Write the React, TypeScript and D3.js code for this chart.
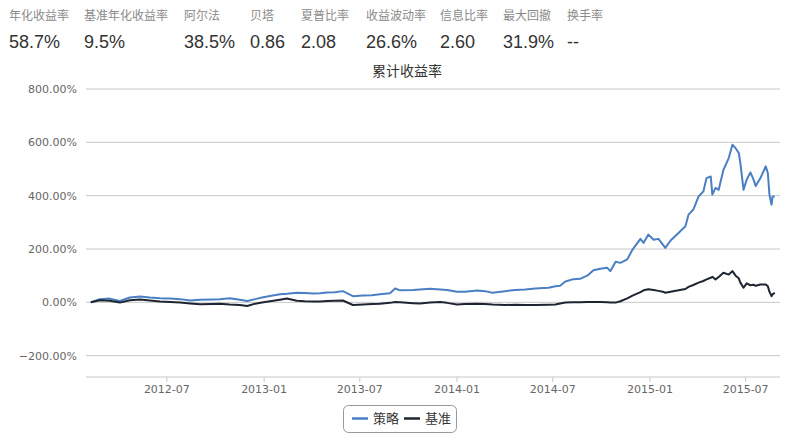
import React from "react";
import * as d3 from "d3";

const statLabels = ["年化收益率", "基准年化收益率", "阿尔法", "贝塔", "夏普比率", "收益波动率", "信息比率", "最大回撤", "换手率"];
const statValues = ["58.7%", "9.5%", "38.5%", "0.86", "2.08", "26.6%", "2.60", "31.9%", "--"];
const statX = [9, 84, 184, 250, 301, 366, 440, 503, 567];

const dates = [
  "2012-02-08","2012-02-25","2012-03-15","2012-04-03","2012-04-22","2012-05-11","2012-05-30","2012-06-18","2012-07-07","2012-07-26",
  "2012-08-14","2012-09-02","2012-09-26","2012-10-09","2012-10-28","2012-11-16","2012-11-30","2012-12-15","2012-12-28","2013-01-12",
  "2013-01-31","2013-02-13","2013-03-04","2013-03-19","2013-04-04","2013-04-17","2013-04-30","2013-05-15","2013-05-30","2013-06-18",
  "2013-07-07","2013-07-24","2013-08-08","2013-08-27","2013-09-06","2013-09-15","2013-10-10","2013-10-23","2013-11-11","2013-11-30",
  "2013-12-13","2014-01-01","2014-01-16","2014-02-08","2014-02-23","2014-03-09","2014-04-02","2014-04-21","2014-05-10","2014-05-29",
  "2014-06-23","2014-07-06","2014-07-15","2014-07-25","2014-08-09","2014-08-22","2014-09-05","2014-09-16","2014-09-29","2014-10-12",
  "2014-10-18","2014-10-28","2014-11-06","2014-11-19","2014-11-29","2014-12-14","2014-12-20","2014-12-29","2015-01-08","2015-01-17",
  "2015-01-25","2015-01-30","2015-02-09","2015-02-24","2015-03-09","2015-03-15","2015-03-24","2015-04-03","2015-04-12","2015-04-18",
  "2015-04-26","2015-04-29","2015-05-05","2015-05-11","2015-05-20","2015-05-30","2015-06-06","2015-06-12","2015-06-18","2015-06-21",
  "2015-06-27","2015-07-03","2015-07-10","2015-07-16","2015-07-20","2015-07-29","2015-08-08","2015-08-12","2015-08-15","2015-08-19",
  "2015-08-21","2015-08-25"
];

const strategy = [
  0, 12, 14, 5, 18, 22, 18, 15, 14, 12,
  7, 10, 11, 12, 15, 10, 5, 12, 18, 24,
  30, 32, 36, 35, 33, 34, 37, 38, 42, 23,
  26, 27, 30, 34, 52, 45, 46, 48, 51, 48,
  46, 40, 40, 44, 42, 36, 42, 46, 48, 52,
  55, 60, 62, 78, 87, 88, 101, 120, 126, 130,
  117, 152, 148, 161, 198, 238, 223, 254, 235, 238,
  217, 204, 232, 260, 285, 329, 348, 397, 416, 466,
  472, 404, 429, 422, 497, 541, 591, 578, 560, 523,
  422, 460, 487, 460, 436, 466, 510, 485, 404, 366,
  397, 397
];

const benchmark = [
  0, 8, 6, -1, 8, 11, 7, 3, 1, -1,
  -4, -7, -6, -5, -8, -10, -14, -5, -1, 4,
  10, 14, 6, 4, 3, 3, 5, 6, 7, -10,
  -8, -6, -5, -2, 1, 0, -3, -4, -1, 1,
  -2, -8, -6, -5, -6, -8, -10, -9, -10, -10,
  -9, -8, -4, -1, 0, 0, 1, 1, 1, 0,
  -1, -1, 4, 15, 25, 38, 45, 49, 46, 43,
  40, 36, 40, 45, 50, 58, 65, 74, 80, 86,
  92, 96, 86, 95, 111, 104, 117, 100, 90, 74,
  55, 71, 64, 66, 62, 67, 67, 60, 40, 23,
  30, 36
];

const yTicks = [-200, 0, 200, 400, 600, 800];
const xTicks = ["2012-07-01", "2013-01-01", "2013-07-01", "2014-01-01", "2014-07-01", "2015-01-01", "2015-07-01"];
const seriesNames = ["策略", "基准"];
const seriesColors = ["#4a7fc3", "#1e2431"];

const W = 793;
const H = 442;
const parse = d3.timeParse("%Y-%m-%d");
const fmt = d3.timeFormat("%Y-%m");

export default function App() {
  const x = d3.scaleTime()
    .domain([parse("2012-01-30")!, parse("2015-09-04")!])
    .range([86, 780]);
  const y = d3.scaleLinear().domain([-280, 800]).range([377, 89]);
  const pts = dates.map((d) => parse(d)!);
  const line = d3.line<number>()
    .x((_, i) => x(pts[i]))
    .y((v) => y(v));
  const series = [strategy, benchmark];
  const cjk = "'Noto Sans CJK SC', 'Liberation Sans', sans-serif";
  const num = "'Liberation Sans', Arial, sans-serif";
  const axisFont = "'DejaVu Sans', sans-serif";

  return (
    <svg width={W} height={H} style={{ position: "absolute", left: 0, top: 0, background: "#fff" }}>
      {statLabels.map((l, i) => (
        <g key={l}>
          <text x={statX[i]} y={20} fontSize={12} fill="#8a8a8a" fontFamily={cjk}>{l}</text>
          <text x={statX[i]} y={48} fontSize={18} fill="#333" fontFamily={num}>{statValues[i]}</text>
        </g>
      ))}
      <text x={407} y={76} textAnchor="middle" fontSize={14} fill="#333" fontFamily={cjk}>累计收益率</text>
      {yTicks.map((t) => (
        <g key={t}>
          <line x1={86} x2={780} y1={y(t)} y2={y(t)} stroke="#c8c8c8" strokeWidth={1} />
          <text x={77} y={y(t) + 4} textAnchor="end" fontSize={11} fill="#666" fontFamily={axisFont}>
            {d3.format(".2f")(t) + "%"}
          </text>
        </g>
      ))}
      <line x1={86} x2={780} y1={377} y2={377} stroke="#c8c8c8" strokeWidth={1} />
      {xTicks.map((t) => {
        const d = parse(t)!;
        return (
          <g key={t}>
            <line x1={x(d)} x2={x(d)} y1={377} y2={382} stroke="#c8c8c8" />
            <text x={x(d)} y={393} textAnchor="middle" fontSize={11} fill="#666" fontFamily={axisFont}>{fmt(d)}</text>
          </g>
        );
      })}
      {series.map((s, i) => (
        <path key={i} d={line(s) || ""} fill="none" stroke={seriesColors[i]} strokeWidth={2} strokeLinejoin="round" />
      ))}
      <rect x={343.5} y={405.5} width={113} height={27} rx={5} fill="#fff" stroke="#999" />
      {seriesNames.map((n, i) => (
        <g key={n}>
          <line x1={352 + i * 52} x2={368 + i * 52} y1={418.5} y2={418.5} stroke={seriesColors[i]} strokeWidth={2.5} />
          <text x={373 + i * 52} y={423} fontSize={13} fill="#333" fontFamily={cjk}>{n}</text>
        </g>
      ))}
    </svg>
  );
}
